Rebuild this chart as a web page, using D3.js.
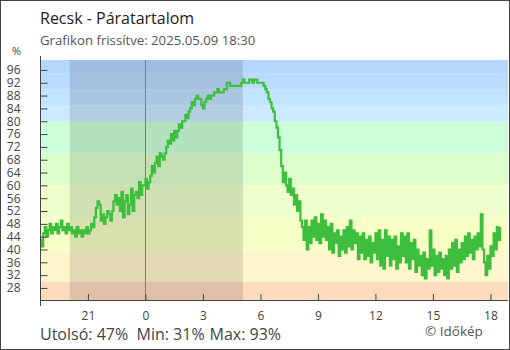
<!DOCTYPE html>
<html>
<head>
<meta charset="utf-8">
<script src="https://cdn.jsdelivr.net/npm/d3@7.9.0/dist/d3.min.js"></script>
<style>
  body { margin: 0; background: #fff; }
  svg { display: block; font-family: "Open Sans", sans-serif; }
</style>
</head>
<body>
<svg id="chart" width="510" height="350"></svg>
<script>
const title = "Recsk - Páratartalom";
const subtitle = "Grafikon frissítve: 2025.05.09 18:30";
const credit = "© Időkép";

// 5-minute readings starting 2025-05-08 18:30, one row per hour
const startTime = Date.UTC(2025, 4, 8, 18, 30);
const stepMinutes = 5;
const humidity = [
  43, 41, 45, 47, 44, 46, 48, 45, 47, 46, 48, 45,
  47, 49, 46, 47, 45, 48, 46, 47, 45, 46, 44, 47,
  45, 46, 44, 46, 45, 47, 45, 46, 48, 47, 50, 53,
  55, 54, 49, 51, 48, 50, 52, 51, 49, 52, 55, 57,
  54, 56, 52, 58, 50, 55, 57, 51, 54, 59, 52, 57,
  58, 56, 61, 57, 60, 60, 62, 59, 61, 63, 66, 64,
  67, 69, 66, 70, 69, 68, 70, 72, 74, 73, 76, 74,
  77, 75, 77, 79, 78, 80, 80, 82, 81, 83, 84, 86,
  85, 87, 88, 87, 87, 85, 84, 86, 87, 88, 87, 88,
  88, 89, 89, 90, 89, 89, 89, 90, 90, 92, 92, 91,
  91, 91, 91, 91, 91, 91, 92, 93, 92, 92, 92, 93,
  93, 92, 93, 93, 92, 92, 92, 92, 91, 90, 89, 87,
  86, 84, 83, 80, 78, 75, 71, 66, 61, 64, 60, 58,
  62, 57, 59, 54, 57, 52, 55, 49, 47, 43, 49, 40,
  47, 42, 49, 44, 50, 43, 48, 42, 51, 44, 49, 43,
  47, 40, 48, 39, 45, 42, 46, 38, 44, 40, 46, 39,
  47, 41, 49, 40, 46, 42, 45, 37, 44, 39, 45, 37,
  43, 38, 44, 36, 42, 39, 45, 37, 46, 35, 43, 34,
  46, 38, 44, 35, 43, 37, 44, 34, 41, 36, 45, 38,
  44, 36, 45, 34, 42, 37, 43, 33, 40, 35, 38, 32,
  39, 31, 37, 34, 46, 35, 40, 32, 38, 33, 39, 34,
  37, 32, 38, 31, 40, 34, 42, 35, 43, 33, 40, 36,
  42, 37, 44, 38, 45, 39, 43, 37, 44, 40, 45, 41,
  51, 40, 36, 32, 38, 34, 41, 38, 45, 40, 47, 43,
  47
];

const yTicks = d3.range(28, 97, 4);
const bandEdges = [0, 30, 40, 50, 60, 70, 80, 85, 90, 95, 100];
const bandColors = ["#fddcbd", "#fff7cc", "#f6ffc6", "#eeffcc", "#ddffcc",
                    "#ccffd9", "#cbe9ff", "#c2e3ff", "#b9dcff", "#b3d7ff"];
const nightStart = Date.UTC(2025, 4, 8, 20, 3);
const nightEnd = Date.UTC(2025, 4, 9, 5, 5);
const midnight = Date.UTC(2025, 4, 9, 0, 0);
const endTime = Date.UTC(2025, 4, 9, 18, 55);

const data = humidity.map((v, i) => ({ t: new Date(startTime + i * stepMinutes * 60000), v: v }));

const svg = d3.select("#chart");
const plotLeft = 40, plotRight = 508, plotTop = 60, plotBottom = 300;

const x = d3.scaleUtc().domain([new Date(startTime), new Date(endTime)]).range([plotLeft, plotRight]);
const y = d3.scaleLinear().domain([24.25, 99.1]).range([plotBottom, plotTop]);

// colour bands
const [yLo, yHi] = y.domain();
svg.append("g")
  .selectAll("rect")
  .data(bandColors)
  .enter()
  .append("rect")
  .attr("x", plotLeft)
  .attr("width", plotRight - plotLeft)
  .attr("y", (_, i) => y(Math.min(bandEdges[i + 1], yHi)))
  .attr("height", (_, i) => y(Math.max(bandEdges[i], yLo)) - y(Math.min(bandEdges[i + 1], yHi)))
  .attr("fill", d => d);

// night shading
svg.append("rect")
  .attr("x", x(nightStart))
  .attr("width", x(nightEnd) - x(nightStart))
  .attr("y", plotTop)
  .attr("height", plotBottom - plotTop)
  .attr("fill", "rgba(0,0,0,0.12)");

// midnight marker
svg.append("line")
  .attr("x1", Math.round(x(midnight)) + 0.5)
  .attr("x2", Math.round(x(midnight)) + 0.5)
  .attr("y1", plotTop)
  .attr("y2", plotBottom)
  .attr("stroke", "#3a8fc6")
  .attr("stroke-width", 1);

// humidity line
const line = d3.line()
  .x(d => x(d.t))
  .y(d => y(d.v))
  .curve(d3.curveStepAfter);

svg.append("path")
  .datum(data)
  .attr("d", line)
  .attr("fill", "none")
  .attr("stroke", "#3dbf3d")
  .attr("stroke-width", 2.2);

// x axis
const xAxis = svg.append("g")
  .attr("transform", `translate(0,${plotBottom})`)
  .call(d3.axisBottom(x)
    .ticks(d3.utcHour.every(3))
    .tickFormat(d3.utcFormat("%-H"))
    .tickSizeInner(-6)
    .tickSizeOuter(0)
    .tickPadding(11.5));
xAxis.select(".domain").remove();
xAxis.selectAll(".tick line").attr("stroke", "#444");
xAxis.selectAll("text").attr("fill", "#444").style("font-size", "12px").style("font-family", "Open Sans");

svg.append("line")
  .attr("x1", plotLeft).attr("x2", plotRight)
  .attr("y1", plotBottom + 0.5).attr("y2", plotBottom + 0.5)
  .attr("stroke", "#444");

// y axis
const yAxis = svg.append("g")
  .attr("transform", `translate(${plotLeft + 0.5},0)`)
  .call(d3.axisLeft(y)
    .tickValues(yTicks)
    .tickSizeInner(7)
    .tickSizeOuter(0)
    .tickPadding(13));
yAxis.select(".domain").remove();
yAxis.selectAll(".tick line").attr("x2", 7).attr("stroke", "#444");
yAxis.selectAll("text").attr("fill", "#444").style("font-size", "12px").style("font-family", "Open Sans");

svg.append("line")
  .attr("x1", plotLeft + 0.5).attr("x2", plotLeft + 0.5)
  .attr("y1", plotTop - 4).attr("y2", plotBottom + 6)
  .attr("stroke", "#444");

svg.append("text")
  .attr("x", 12).attr("y", 55)
  .attr("fill", "#444")
  .style("font-size", "11px")
  .text("%");

// titles
svg.append("text")
  .attr("x", 40).attr("y", 24)
  .attr("fill", "#222")
  .style("font-size", "16px")
  .text(title);

svg.append("text")
  .attr("x", 40).attr("y", 45)
  .attr("fill", "#555")
  .style("font-size", "13.2px")
  .text(subtitle);

// summary
const stats = [
  { label: "Utolsó: " + humidity[humidity.length - 1] + "%", x: 40 },
  { label: "Min: " + d3.min(humidity) + "%", x: 136.5 },
  { label: "Max: " + d3.max(humidity) + "%", x: 209.5 }
];
svg.append("g")
  .selectAll("text")
  .data(stats)
  .enter()
  .append("text")
  .attr("x", d => d.x)
  .attr("y", 340)
  .attr("fill", "#444")
  .style("font-size", "16px")
  .text(d => d.label);

svg.append("text")
  .attr("x", 425).attr("y", 336)
  .attr("fill", "#555")
  .style("font-size", "13.5px")
  .text(credit);

// frame
svg.append("rect")
  .attr("x", 0.5).attr("y", 0.5)
  .attr("width", 509).attr("height", 349)
  .attr("fill", "none")
  .attr("stroke", "#444");
</script>
</body>
</html>
